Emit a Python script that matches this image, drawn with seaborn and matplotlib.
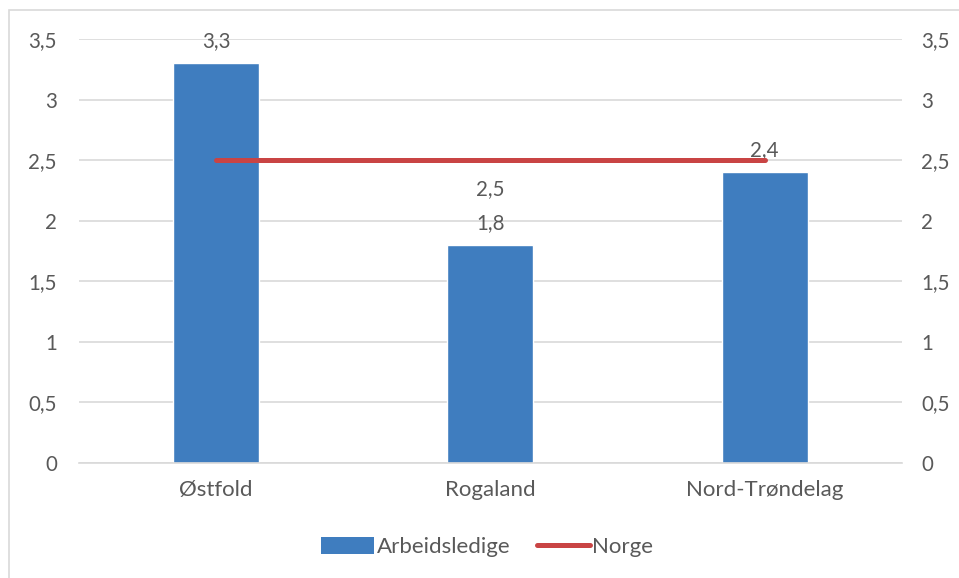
import numpy as np
import pandas as pd
import matplotlib.pyplot as plt
import seaborn as sns
from matplotlib.patches import Rectangle, Patch
from matplotlib.lines import Line2D
from matplotlib.legend_handler import HandlerLine2D

# Chart values
regions = ['Østfold', 'Rogaland', 'Nord-Trøndelag']
arbeidsledige = [3.3, 1.8, 2.4]
norge = [2.5, 2.5, 2.5]
y_ticks = [0, 0.5, 1, 1.5, 2, 2.5, 3, 3.5]

bar_color = '#3F7DBF'
line_color = '#C94444'
text_color = '#595959'
grid_color = '#D9D9D9'
fs = 14.8      # numbers
fs_txt = 16    # words

sns.set_style('white')
plt.rcParams['font.family'] = ['Lato', 'DejaVu Sans']

df = pd.DataFrame({'Region': regions, 'Arbeidsledige': arbeidsledige, 'Norge': norge})

def fmt(v):
    s = f'{v:g}'
    return s.replace('.', ',')

fig = plt.figure(figsize=(9.59, 5.78), dpi=100)
ax = fig.add_axes([0.0824, 0.199, 0.858, 0.7336])

sns.barplot(data=df, x='Region', y='Arbeidsledige', color=bar_color, width=0.314,
            saturation=1, ax=ax, zorder=2)
ax.set_xlim(-0.5, 2.5)
ax.set_ylim(0, 3.5)
ax.set_yticks(y_ticks)
ax.set_yticklabels([fmt(v) for v in y_ticks])
ax.set_xlabel('')
ax.set_ylabel('')
ax.grid(axis='y', color=grid_color, linewidth=1.2, zorder=0)
ax.set_axisbelow(True)
for s in ['top', 'right', 'left']:
    ax.spines[s].set_visible(False)
ax.spines['bottom'].set_color(grid_color)
ax.spines['bottom'].set_linewidth(1.2)
ax.tick_params(axis='x', length=0, labelsize=fs_txt, colors=text_color, pad=12)
ax.tick_params(axis='y', length=0, labelsize=fs, colors=text_color, pad=16)

for i, v in enumerate(arbeidsledige):
    ax.text(i, v + 0.1, fmt(v), ha='center', va='bottom', fontsize=fs, color=text_color)

ax2 = ax.twinx()
sns.lineplot(x=[0, 1, 2], y=norge, ax=ax2, color=line_color, linewidth=3.6,
             solid_capstyle='round', zorder=3)
ax2.set_ylim(0, 3.5)
ax2.set_yticks(y_ticks)
ax2.set_yticklabels([fmt(v) for v in y_ticks])
for s in ['top', 'right', 'left', 'bottom']:
    ax2.spines[s].set_visible(False)
ax2.tick_params(axis='y', length=0, labelsize=fs, colors=text_color, pad=14)
ax2.text(1, norge[1] - 0.16, fmt(norge[1]), ha='center', va='top', fontsize=fs, color=text_color)

line_handle = Line2D([0], [0], color=line_color, linewidth=3.6, solid_capstyle='round')
handles = [Patch(facecolor=bar_color, edgecolor='none'), line_handle]
leg = fig.legend(handles, ['Arbeidsledige', 'Norge'], loc='center', bbox_to_anchor=(0.508, 0.054),
                 ncol=2, frameon=False, fontsize=fs_txt, handlelength=2.4, handleheight=0.8,
                 handletextpad=0.1, columnspacing=1.2,
                 handler_map={line_handle: HandlerLine2D(marker_pad=0.05)})
for t in leg.get_texts():
    t.set_color(text_color)

fig.patches.append(Rectangle((0.009, -0.01), 0.995, 0.993, transform=fig.transFigure,
                             fill=False, edgecolor='#D9D9D9', linewidth=1.2))

fig.savefig('out.png', dpi=100)
